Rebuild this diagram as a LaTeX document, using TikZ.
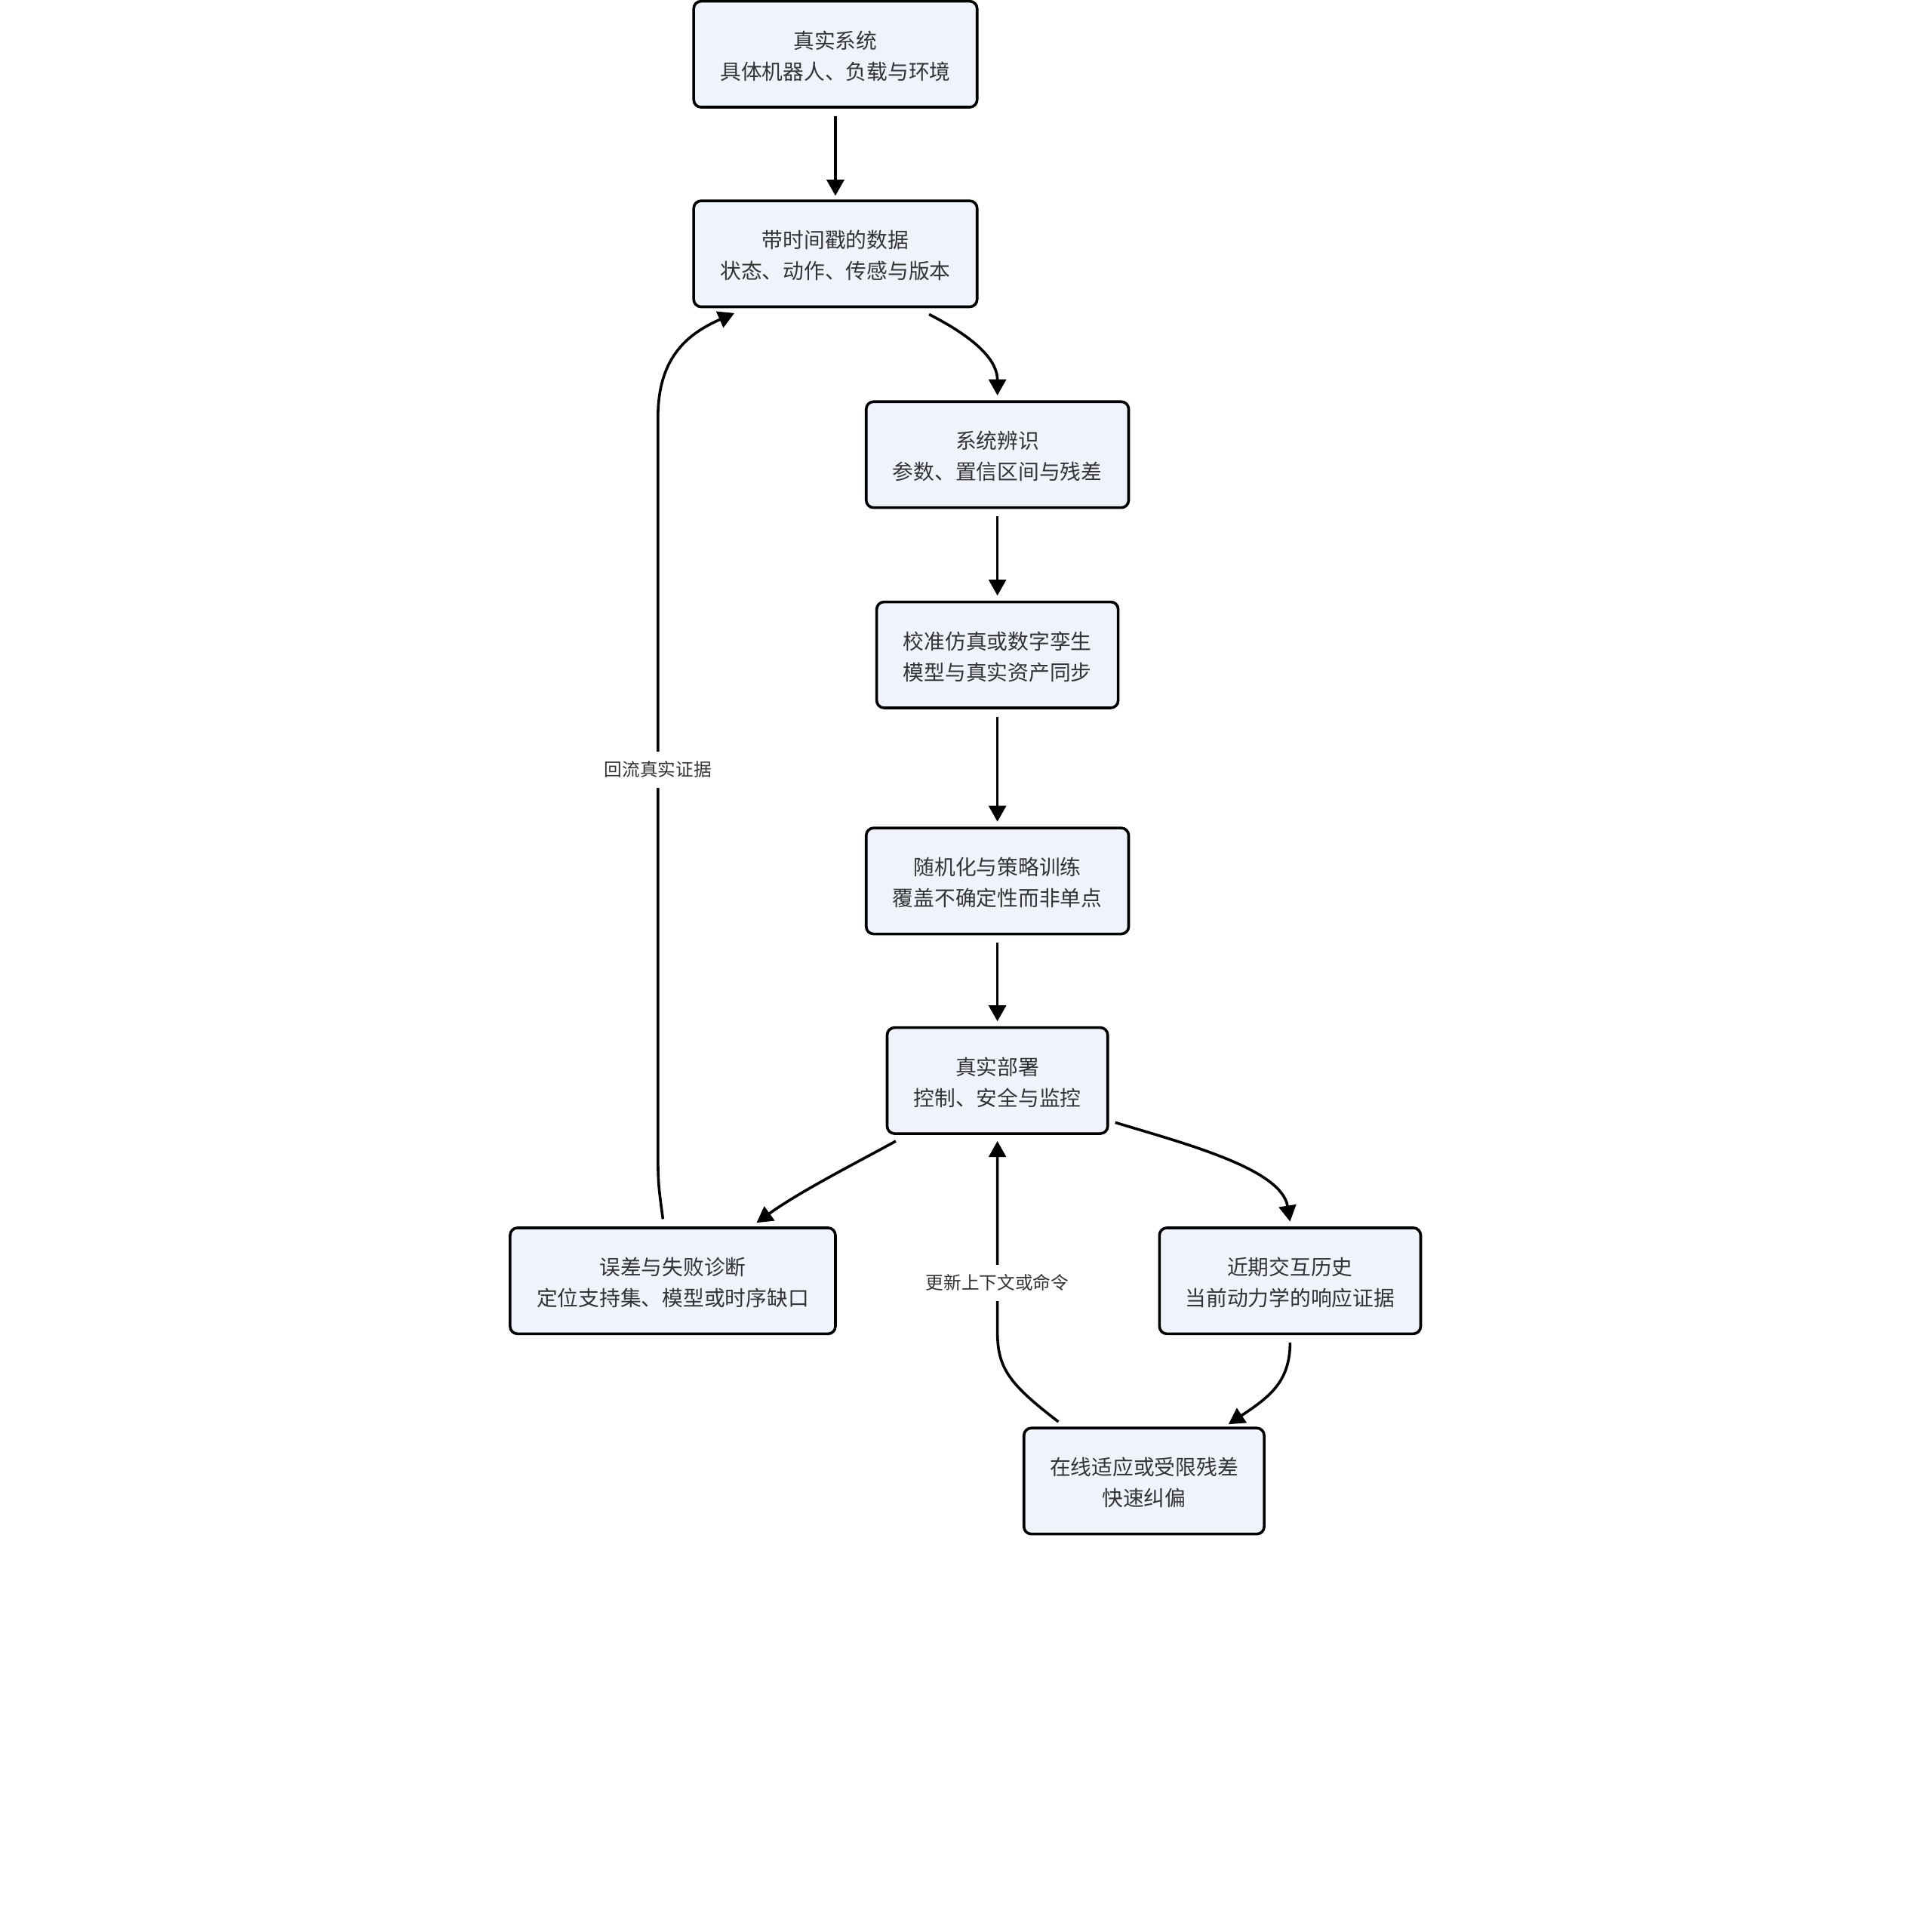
\documentclass[tikz,border=0pt]{standalone}
\usepackage{fontspec}
\setmainfont{Noto Sans CJK SC}
\usetikzlibrary{arrows.meta,calc}
\definecolor{boxfill}{HTML}{EFF3FC}
\definecolor{txt}{HTML}{333333}
\tikzset{
  box/.style={draw=black, fill=boxfill, line width=2.2pt, rounded corners=6pt,
    minimum height=86pt, inner xsep=4pt, inner ysep=2pt, align=center, text=txt,
    font=\fontsize{17}{25}\selectfont, text height=48pt, text depth=7.2pt},
  arr/.style={line width=2.2pt, draw=black, -{Triangle[length=13pt,width=14pt]}},
  lbl/.style={fill=white, text=txt, inner xsep=3pt, inner ysep=8pt,
    font=\fontsize{14.5}{17}\selectfont}
}
\begin{document}
\begin{tikzpicture}[x=1pt,y=-1pt]
\useasboundingbox (0,0) rectangle (1568,1568);
\node[box, minimum width=230pt] (n1) at (678,44) {真实系统\\具体机器人、负载与环境};
\node[box, minimum width=230pt] (n2) at (678,206) {带时间戳的数据\\状态、动作、传感与版本};
\node[box, minimum width=213pt] (n3) at (809.5,369) {系统辨识\\参数、置信区间与残差};
\node[box, minimum width=196pt] (n4) at (809.5,531.5) {校准仿真或数字孪生\\模型与真实资产同步};
\node[box, minimum width=213pt] (n5) at (809.5,715) {随机化与策略训练\\覆盖不确定性而非单点};
\node[box, minimum width=179pt] (n6) at (809.5,877) {真实部署\\控制、安全与监控};
\node[box, minimum width=264pt] (n7) at (546,1039.5) {误差与失败诊断\\定位支持集、模型或时序缺口};
\node[box, minimum width=212pt] (n8) at (1047,1039.5) {近期交互历史\\当前动力学的响应证据};
\node[box, minimum width=195pt] (n9) at (928.5,1202) {在线适应或受限残差\\快速纠偏};

\draw[arr] ($(n1.south)+(0,6)$) -- ($(n2.north)+(0,-3)$);
\draw[arr] ($(n2.south)+(76,5)$) .. controls +(41,21) and +(0,-27) .. ($(n3.north)+(0,-4)$);
\draw[arr] ($(n3.south)+(0,6)$) -- ($(n4.north)+(0,-4)$);
\draw[arr] ($(n4.south)+(0,6)$) -- ($(n5.north)+(0,-4)$);
\draw[arr] ($(n5.south)+(0,6)$) -- ($(n6.north)+(0,-4)$);
\draw[arr] ($(n6.south)+(-82.5,5)$) .. controls +(-27,15) and +(36,-26) .. ($(n7.north)+(68,-3)$);
\draw[arr] ($(n6.east)+(5,34)$) .. controls +(56,17) and +(-7,-43) .. ($(n8.north)+(0,-4)$);
\draw[arr] ($(n8.south)+(0,6)$) .. controls +(0,32) and +(33,-22) .. ($(n9.north)+(68.5,-2)$);

\coordinate (b1) at ($(n6.south)+(0,160)$);
\draw[arr] ($(n9.north)+(-69.5,-4)$) .. controls +(-39,-30) and +(0,30) .. (b1)
  -- node[lbl, pos=0.258] {更新上下文或命令} ($(n6.south)+(0,5)$);

\coordinate (a1) at ($(n7.north)+(-12,-67)$);
\coordinate (a2) at ($(n7.north)+(-12,-657)$);
\draw[arr] ($(n7.north)+(-8,-6)$) .. controls +(-4,-30) .. (a1)
  -- node[lbl, pos=0.519, yshift=-2.5pt] {回流真实证据} (a2)
  .. controls +(0,-50) and +(-36,16) .. ($(n2.south)+(-82,4)$);
\end{tikzpicture}
\end{document}
